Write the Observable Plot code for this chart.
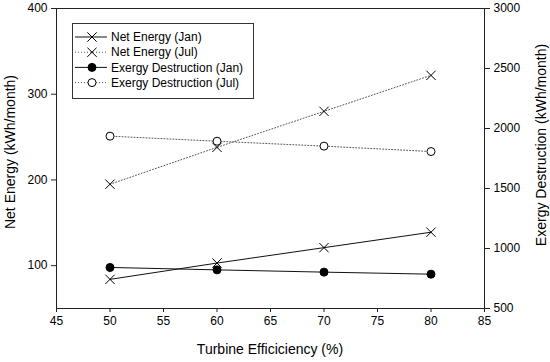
<!DOCTYPE html>
<html><head><meta charset="utf-8">
<script src="https://cdn.jsdelivr.net/npm/d3@7"></script>
<script src="https://cdn.jsdelivr.net/npm/@observablehq/plot@0.6"></script>
<style>
body{margin:0;background:#fff;font-family:Arial,"Liberation Sans",sans-serif}
#wrap{position:relative;width:550px;height:362px}
#legend{position:absolute;left:72px;top:23px}
#titles{position:absolute;left:0;top:0;pointer-events:none}
</style></head><body><div id="wrap"></div>
<script>
const efficiency = [50, 60, 70, 80];
const netJan = [84, 103, 121, 139];
const netJul = [195, 238, 280, 322];
const exJan = [842, 822, 803, 786];
const exJul = [1936, 1894, 1853, 1808];
const xTicks = [45, 50, 55, 60, 65, 70, 75, 80, 85];
const leftTicks = [100, 200, 300, 400];
const rightTicks = [500, 1000, 1500, 2000, 2500, 3000];
const leftDomain = [50, 400];
const rightDomain = [500, 3000];
const xLabel = "Turbine Efficiciency (%)";
const leftLabel = "Net Energy (kWh/month)";
const rightLabel = "Exergy Destruction (kWh/month)";

const k = (leftDomain[1] - leftDomain[0]) / (rightDomain[1] - rightDomain[0]);
const toLeft = v => leftDomain[0] + (v - rightDomain[0]) * k;
const fromLeft = v => rightDomain[0] + (v - leftDomain[0]) / k;

const series = [
  {name: "Net Energy (Jan)", values: netJan, right: false, dash: null, stroke: "#111", symbol: "times", fill: "none"},
  {name: "Net Energy (Jul)", values: netJul, right: false, dash: "1,2", stroke: "#555", symbol: "times", fill: "none"},
  {name: "Exergy Destruction (Jan)", values: exJan, right: true, dash: null, stroke: "#111", symbol: "circle", fill: "#000"},
  {name: "Exergy Destruction (Jul)", values: exJul, right: true, dash: "1,2", stroke: "#555", symbol: "circle", fill: "#fff"}
];

const marks = [
  Plot.frame({stroke: "#222"}),
  Plot.axisX({ticks: xTicks, tickSize: 4, tickPadding: 4, label: null, stroke: "#222"}),
  Plot.axisY({anchor: "left", ticks: leftTicks, tickSize: 5, tickPadding: 4, label: null, stroke: "#222"}),
  Plot.axisY(rightTicks.map(toLeft), {anchor: "right", tickSize: 5, tickPadding: 4, label: null, stroke: "#222",
    tickFormat: d => String(Math.round(fromLeft(d)))})
];

for (const s of series) {
  const rows = efficiency.map((x, i) => ({x, y: s.right ? toLeft(s.values[i]) : s.values[i]}));
  marks.push(Plot.line(rows, {x: "x", y: "y", stroke: s.stroke, strokeWidth: 1, strokeDasharray: s.dash}));
  marks.push(Plot.dot(rows, {x: "x", y: "y", symbol: s.symbol, r: s.symbol === "times" ? 4.3 : 4,
    stroke: "#000", strokeWidth: 1, fill: s.fill}));
}

const chart = Plot.plot({
  width: 550, height: 362,
  marginLeft: 56, marginRight: 66, marginTop: 8, marginBottom: 54,
  style: {fontSize: "12px", fontFamily: "Arial, 'Liberation Sans', sans-serif", color: "#000", background: "#fff"},
  x: {domain: [45, 85]},
  y: {domain: leftDomain},
  marks
});
const wrap = document.getElementById("wrap");
wrap.appendChild(chart);

// axis titles
const ts = d3.create("svg").attr("id", "titles").attr("width", 550).attr("height", 362)
  .style("font-family", "Arial, 'Liberation Sans', sans-serif").style("font-size", "14px");
ts.append("text").attr("x", 270).attr("y", 349).attr("dy", "0.35em").attr("text-anchor", "middle").text(xLabel);
ts.append("text").attr("transform", "translate(10,152) rotate(-90)").attr("dy", "0.35em").attr("text-anchor", "middle").text(leftLabel);
ts.append("text").attr("transform", "translate(541,145) rotate(-90)").attr("dy", "0.35em").attr("text-anchor", "middle").text(rightLabel);
wrap.appendChild(ts.node());

// legend
const lg = d3.create("svg").attr("id", "legend").attr("width", 182).attr("height", 76)
  .style("font-family", "Arial, 'Liberation Sans', sans-serif").style("font-size", "12px");
lg.append("rect").attr("x", 0.5).attr("y", 0.5).attr("width", 181).attr("height", 75)
  .attr("fill", "#fff").attr("stroke", "#333");
series.forEach((s, i) => {
  const y = 14 + i * 15.2;
  const g = lg.append("g").attr("transform", `translate(0,${y})`);
  g.append("line").attr("x1", 3).attr("x2", 35).attr("stroke", s.stroke)
    .attr("stroke-dasharray", s.dash);
  const r = s.symbol === "times" ? 4.3 : 4;
  g.append("path").attr("transform", "translate(20,0)")
    .attr("d", d3.symbol(s.symbol === "times" ? d3.symbolTimes : d3.symbolCircle, r * r * Math.PI)())
    .attr("fill", s.fill).attr("stroke", "#000");
  g.append("text").attr("x", 39).attr("dy", "0.35em").text(s.name);
});
wrap.appendChild(lg.node());
</script></body></html>
